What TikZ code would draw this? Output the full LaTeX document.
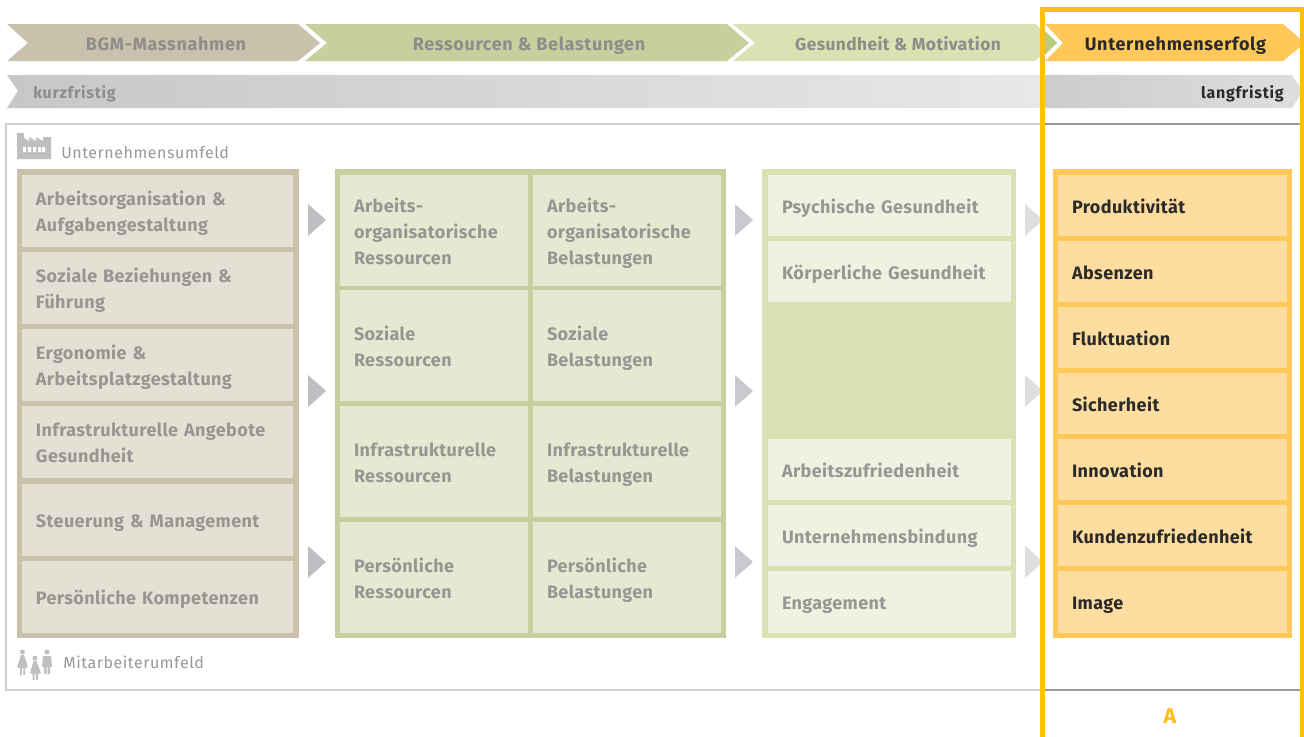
\documentclass[tikz,border=0pt]{standalone}
\usepackage{fontspec}
\setmainfont{Fira Sans}
\newfontfamily\bfam[LetterSpace=2.2]{Fira Sans}
\newfontfamily\hfam[LetterSpace=3.7]{Fira Sans}
\newfontfamily\gfam[LetterSpace=2.5]{Fira Sans}
\newfontfamily\sfam[LetterSpace=4.5]{Fira Sans}
\newfontfamily\efam[LetterSpace=3.5]{Fira Sans}
\definecolor{begeB}{HTML}{C9C1AC}
\definecolor{begeF}{HTML}{E4E0D4}
\definecolor{oliveB}{HTML}{C9CE9F}
\definecolor{oliveF}{HTML}{E6E9D2}
\definecolor{lgreenB}{HTML}{DAE1B2}
\definecolor{lgreenF}{HTML}{EFF2E0}
\definecolor{orangeB}{HTML}{FFC858}
\definecolor{orangeF}{HTML}{FEDEA0}
\definecolor{frameY}{HTML}{FFBE15}
\definecolor{tipG}{HTML}{B9CB7B}
\definecolor{txtG}{HTML}{989692}
\definecolor{txtH}{HTML}{8E8D89}
\definecolor{txtD}{HTML}{2B2A29}
\definecolor{iconG}{HTML}{BDBFC1}
\definecolor{arrG}{HTML}{BDBFC3}
\definecolor{arrM}{HTML}{C9CACE}
\definecolor{arrL}{HTML}{DDDEE0}
\definecolor{lineG}{HTML}{D0D0D0}
\tikzset{
  x=0.75pt,y=-0.75pt,
  celltext/.style={font=\bfam\bfseries\fontsize{13.5}{19.5}\selectfont,align=left,inner sep=0pt,anchor=center},
  headtext/.style={font=\hfam\bfseries\fontsize{13.5}{16}\selectfont,inner sep=0pt,anchor=center},
  smalltext/.style={font=\sfam\bfseries\fontsize{12}{14}\selectfont,inner sep=0pt},
  envtext/.style={font=\efam\fontsize{12}{14}\selectfont,inner sep=0pt,anchor=west,text=txtH!90},
}
% name, x0,y0,x1,y1, fill, textcolor, text
\newcommand{\cellbox}[8]{%
  \fill[#6] (#2,#3) rectangle (#4,#5);
  \node[celltext,text=#7,text width={(#4-#2-28)*0.75pt}] (#1) at ({(#2+#4)/2},{(#3+#5)/2+2.4}) {\strut #8\strut};
}
\begin{document}
\begin{tikzpicture}
\useasboundingbox (0,0) rectangle (1304,736);
\fill[white] (0,0) rectangle (1304,736);
% head chevrons
\fill[begeB] (7,24) -- (298,24) -- (320,43) -- (298,61) -- (7,61) -- (28,43) -- cycle;
\fill[oliveB] (305,24) -- (727,24) -- (749,43) -- (727,61) -- (305,61) -- (327,43) -- cycle;
\fill[lgreenB] (733,24) -- (1035,24) -- (1057,43) -- (1035,61) -- (733,61) -- (755,43) -- cycle;
\fill[tipG] (1045,30.8) -- (1057,43) -- (1045,54.8) -- cycle;
\fill[orangeB] (1045,24) -- (1283,24) -- (1305,43) -- (1283,61) -- (1045,61) -- (1063,43) -- cycle;
\node[headtext,text=txtH] (h1) at (166,46.5) {\strut BGM-Massnahmen};
\node[headtext,text=txtH] (h2) at (529,46.5) {\strut Ressourcen \& Belastungen};
\node[headtext,text=txtH,font=\gfam\bfseries\fontsize{13}{16}\selectfont] (h3) at (898,46.5) {\strut Gesundheit \& Motivation};
\node[headtext,text=txtD] (h4) at (1175.5,46.5) {\strut Unternehmenserfolg};
% time bar
\shade[left color=black!22,right color=black!9] (7,75) -- (1042,75) -- (1042,108) -- (7,108) -- (18,91) -- cycle;
\shade[left color=black!20,right color=black!13] (1042,75) -- (1292,75) -- (1303,91) -- (1292,108) -- (1042,108) -- cycle;
\node[smalltext,text=txtH,anchor=west] (kf) at (33,94.5) {\strut kurzfristig};
\node[smalltext,text=txtD,anchor=east] (lf) at (1284,94.5) {\strut langfristig};
% environment frame
\draw[lineG,line width=1.5pt] (1042,123.5) -- (6,123.5) -- (6,689.5) -- (1042,689.5);
\draw[black!40,line width=1.5pt] (1042,123.5) -- (1300,123.5) (1042,689.5) -- (1300,689.5);
% factory icon
\fill[iconG] (17,133) -- (24,133) -- (24,138) -- (29,141) -- (29,137) -- (36,141) -- (36,137) -- (43,141) -- (43,137) -- (51,137) -- (51,159) -- (17,159) -- cycle;
\fill[white] (23,147) rectangle (26,152) (28,147) rectangle (31,152) (33,147) rectangle (36,152) (38,147) rectangle (41,152) (42,147) rectangle (45,152);
\node[envtext] (ue) at (61,154.5) {\strut Unternehmensumfeld};
% people icon
\begin{scope}[iconG]
\fill (22.5,652) circle (2.5);
\fill (21,655) -- (24,655) -- (28,667) -- (25,668) -- (25,675) -- (23.3,675) -- (23.3,668) -- (21.8,668) -- (21.8,675) -- (20,675) -- (20,668) -- (17,667) -- cycle;
\fill (35,658) circle (2.5);
\fill (33.5,661) -- (36.5,661) -- (41,673) -- (38,674) -- (38,680) -- (36,680) -- (36,674) -- (34.5,674) -- (34.5,680) -- (32.5,680) -- (32.5,674) -- (30,673) -- cycle;
\fill (47,652) circle (2.5);
\fill (43,656) -- (51,656) -- (52,667) -- (50,667) -- (50,674) -- (47.5,674) -- (47.5,667) -- (46.5,667) -- (46.5,674) -- (44,674) -- (44,667) -- (42,667) -- cycle;
\end{scope}
\node[envtext] (ma) at (63,664.5) {\strut Mitarbeiterumfeld};
% column 1
\fill[begeB] (17,169) rectangle (299,638);
\cellbox{a1}{22}{175}{293}{247}{begeF}{txtG}{Arbeitsorganisation \&\\Aufgabengestaltung}
\cellbox{a2}{22}{252}{293}{324}{begeF}{txtG}{Soziale Beziehungen \&\\Führung}
\cellbox{a3}{22}{329}{293}{401}{begeF}{txtG}{Ergonomie \&\\Arbeitsplatzgestaltung}
\cellbox{a4}{22}{406}{293}{478}{begeF}{txtG}{Infrastrukturelle Angebote\\Gesundheit}
\cellbox{a5}{22}{484}{293}{556}{begeF}{txtG}{Steuerung \& Management}
\cellbox{a6}{22}{561}{293}{633}{begeF}{txtG}{Persönliche Kompetenzen}
% column 2
\fill[oliveB] (335,169) rectangle (726,638);
\cellbox{b1}{340}{175}{528}{286}{oliveF}{txtG}{Arbeits-\\organisatorische\\Ressourcen}
\cellbox{c1}{533}{175}{721}{286}{oliveF}{txtG}{Arbeits-\\organisatorische\\Belastungen}
\cellbox{b2}{340}{290}{528}{401}{oliveF}{txtG}{Soziale\\Ressourcen}
\cellbox{c2}{533}{290}{721}{401}{oliveF}{txtG}{Soziale\\Belastungen}
\cellbox{b3}{340}{406}{528}{517}{oliveF}{txtG}{Infrastrukturelle\\Ressourcen}
\cellbox{c3}{533}{406}{721}{517}{oliveF}{txtG}{Infrastrukturelle\\Belastungen}
\cellbox{b4}{340}{522}{528}{633}{oliveF}{txtG}{Persönliche\\Ressourcen}
\cellbox{c4}{533}{522}{721}{633}{oliveF}{txtG}{Persönliche\\Belastungen}
% column 3
\fill[lgreenB] (762,169) rectangle (1016,638);
\cellbox{d1}{768}{175}{1011}{236}{lgreenF}{txtG}{Psychische Gesundheit}
\cellbox{d2}{768}{241}{1011}{302}{lgreenF}{txtG}{Körperliche Gesundheit}
\cellbox{d3}{768}{439}{1011}{500}{lgreenF}{txtG}{Arbeitszufriedenheit}
\cellbox{d4}{768}{505}{1011}{566}{lgreenF}{txtG}{Unternehmensbindung}
\cellbox{d5}{768}{571}{1011}{633}{lgreenF}{txtG}{Engagement}
% column 4
\fill[orangeB] (1053,169) rectangle (1292,638);
\cellbox{e1}{1058}{175}{1287}{236}{orangeF}{txtD}{Produktivität}
\cellbox{e2}{1058}{241}{1287}{302}{orangeF}{txtD}{Absenzen}
\cellbox{e3}{1058}{307}{1287}{368}{orangeF}{txtD}{Fluktuation}
\cellbox{e4}{1058}{373}{1287}{434}{orangeF}{txtD}{Sicherheit}
\cellbox{e5}{1058}{439}{1287}{500}{orangeF}{txtD}{Innovation}
\cellbox{e6}{1058}{505}{1287}{566}{orangeF}{txtD}{Kundenzufriedenheit}
\cellbox{e7}{1058}{571}{1287}{633}{orangeF}{txtD}{Image}
% arrows
\foreach \yy in {220,391,562}{
  \fill[arrG] (308,\yy-16) -- (326,\yy) -- (308,\yy+16) -- cycle;
  \fill[arrM] (735,\yy-16) -- (753,\yy) -- (735,\yy+16) -- cycle;
  \fill[arrL] (1025,\yy-16) -- (1043,\yy) -- (1025,\yy+16) -- cycle;
}
% highlight frame
\draw[frameY,line width=3.75pt] (1042.5,9.5) rectangle (1302,739);
\node[font=\bfseries\fontsize{16}{18}\selectfont,inner sep=0pt,text=frameY] (fa) at (1170,716) {A};
\end{tikzpicture}
\end{document}
